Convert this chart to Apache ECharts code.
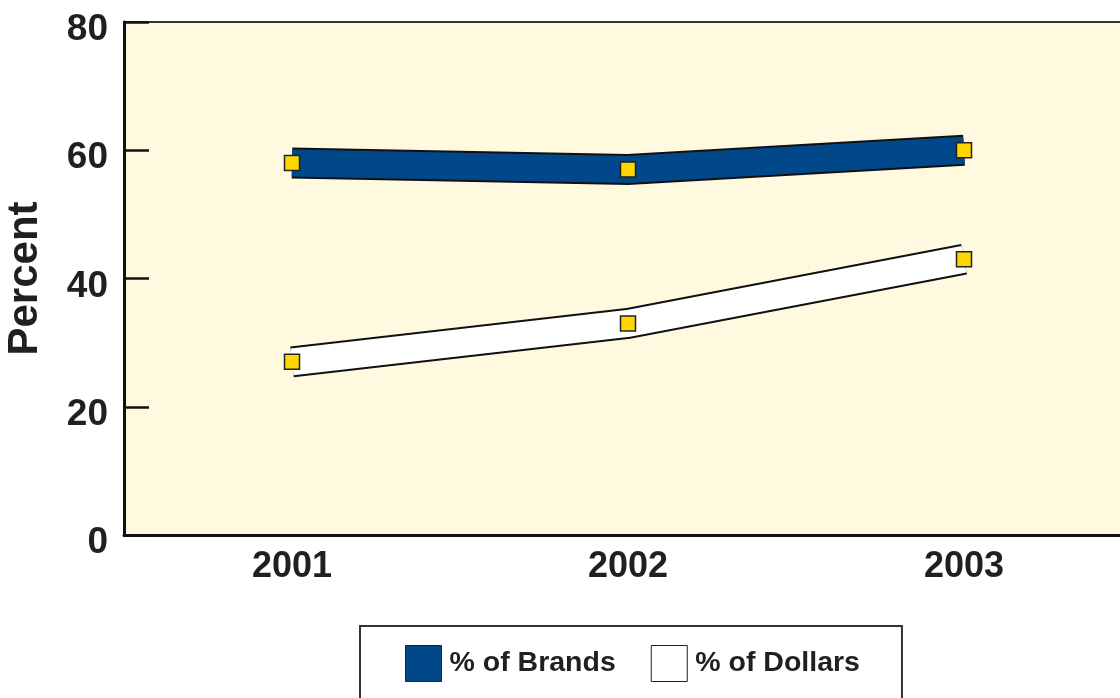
<!DOCTYPE html>
<html>
<head>
<meta charset="utf-8">
<script src="https://cdn.jsdelivr.net/npm/echarts@6/dist/echarts.min.js"></script>
<style>
  html, body { margin: 0; padding: 0; background: #fff; }
  #chart { width: 1120px; height: 698px; }
</style>
</head>
<body>
<div id="chart"></div>
<script>
// data
const years = ['2001', '2002', '2003']
const brands = [58, 57, 60]
const dollars = [27, 33, 43]
const yTicks = [0, 20, 40, 60, 80]

const ink = '#231f20'
const navy = '#00488a'
const yellow = '#ffd700'

const chart = echarts.init(document.getElementById('chart'))

// one band = dark outline line + fill line on top, with square markers
const band = (name, values, fill) => ([
  {
    name: name + ' outline',
    type: 'line',
    data: values,
    symbol: 'none',
    silent: true,
    z: 2,
    lineStyle: { color: '#111', width: 31, cap: 'butt', join: 'miter' }
  },
  {
    name: name,
    type: 'line',
    data: values,
    symbol: 'rect',
    symbolSize: 15,
    z: 3,
    lineStyle: { color: fill, width: 27, cap: 'butt', join: 'miter' },
    itemStyle: { color: yellow, borderColor: '#222', borderWidth: 1.5 }
  }
])

chart.setOption({
  animation: false,
  grid: {
    left: 124,
    top: 22,
    width: 1008,
    height: 513,
    containLabel: false,
    outerBoundsMode: 'none',
    show: true,
    backgroundColor: '#fffadf',
    borderColor: '#333',
    borderWidth: 2
  },
  legend: {
    left: 360,
    top: 626,
    padding: [19, 42, 20, 45],
    itemGap: 35,
    itemWidth: 36,
    itemHeight: 36,
    borderColor: '#333',
    borderWidth: 2,
    selectedMode: false,
    textStyle: { color: ink, fontSize: 28.5, fontWeight: 'bold', fontFamily: 'Liberation Sans', padding: [0, 0, 0, 3] },
    data: [
      { name: '% of Brands', icon: 'rect', itemStyle: { color: navy, borderColor: '#222', borderWidth: 1 } },
      { name: '% of Dollars', icon: 'rect', itemStyle: { color: '#fff', borderColor: '#222', borderWidth: 1 } }
    ]
  },
  xAxis: {
    type: 'category',
    data: years,
    boundaryGap: true,
    axisLine: { lineStyle: { color: '#111', width: 3 } },
    axisTick: { inside: true, length: 17, alignWithLabel: true, lineStyle: { color: '#111', width: 2 } },
    axisLabel: { color: ink, fontSize: 36, fontWeight: 'bold', fontFamily: 'Liberation Sans', margin: 14 },
    splitLine: { show: false }
  },
  yAxis: {
    type: 'value',
    min: yTicks[0],
    max: yTicks[yTicks.length - 1],
    interval: 20,
    name: 'Percent',
    nameLocation: 'middle',
    nameRotate: 90,
    nameGap: 78,
    nameMoveOverlap: false,
    nameTextStyle: { color: ink, fontSize: 42, fontWeight: 'bold', fontFamily: 'Liberation Sans', verticalAlign: 'bottom' },
    axisLine: { show: true, lineStyle: { color: '#111', width: 3 } },
    axisTick: { show: true, inside: true, length: 25, lineStyle: { color: '#111', width: 2.5 } },
    axisLabel: { color: ink, fontSize: 37, fontWeight: 'bold', fontFamily: 'Liberation Sans', margin: 16, verticalAlign: 'top', lineHeight: 16 },
    splitLine: { show: false }
  },
  series: [
    ...band('% of Brands', brands, navy),
    ...band('% of Dollars', dollars, '#ffffff')
  ]
})
</script>
</body>
</html>
